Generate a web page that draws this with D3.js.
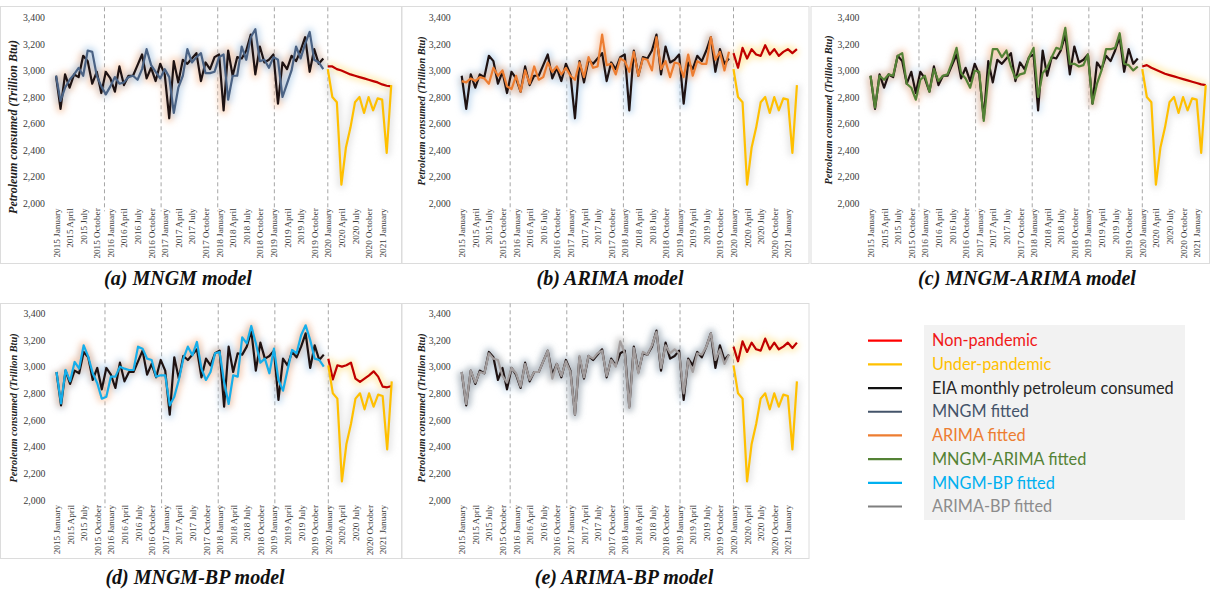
<!DOCTYPE html>
<html>
<head>
<meta charset="utf-8">
<script src="https://cdn.jsdelivr.net/npm/d3@7"></script>
<style>
  html, body { margin: 0; padding: 0; background: #ffffff; }
  svg { display: block; }
</style>
</head>
<body>
<svg id="chart" width="1210" height="590"></svg>
<script>
// ---------------- DATA ----------------
const tickLabels = [
  "2015 January","2015 April","2015 July","2015 October",
  "2016 January","2016 April","2016 July","2016 October",
  "2017 January","2017 April","2017 July","2017 October",
  "2018 January","2018 April","2018 July","2018 October",
  "2019 January","2019 April","2019 July","2019 October",
  "2020 January","2020 April","2020 July","2020 October",
  "2021 January"
];
const yTicks = [2000, 2200, 2400, 2600, 2800, 3000, 3200, 3400];
// month index (0 = 2015 January) where the dashed year separators sit
const dividers = [10.7, 23.2, 35.7, 48.2, 60];

// EIA monthly petroleum consumed, 2015 Jan – 2019 Dec (trillion Btu)
const eia = [
  2960, 2710, 2970, 2870, 2970, 2950, 3110, 3070, 2900, 2990, 2830, 2990,
  2940, 2840, 3030, 2890, 2960, 2960, 3040, 3120, 2940, 3020, 2920, 3050,
  2970, 2640, 3070, 2910, 3080, 3050, 3090, 3130, 2920, 3060, 3010, 3100,
  3120, 2700, 3150, 2960, 3100, 3090, 3150, 3270, 2970, 3180, 3060, 3080,
  3120, 2750, 3060, 3010, 3110, 3070, 3150, 3250, 2990, 3160, 3050, 3090
];
const mngmFit = [
  2960, 2770, 2870, 2930, 2970, 3020, 2960, 3150, 3140, 2960, 2880, 2820,
  2880, 2950, 2900, 2910, 2950, 2960, 2930, 3010, 3160, 3040, 2990, 2940,
  3010, 2950, 2680, 2870, 2960, 3160, 3060, 3100, 3130, 2980, 2980, 2990,
  3100, 3120, 2780, 2960, 2960, 3180, 3080, 3250, 3310, 3070, 3080, 3020,
  3100, 3080, 2800, 2900, 3000, 3180, 3090, 3200, 3290, 3080, 3060, 3010
];
const arimaFit = [
  2920, 2910, 2940, 2920, 2950, 2940, 2900, 3020, 2960, 3000, 2880, 2860,
  2960, 2840, 3000, 2900, 3030, 2930, 2950, 3060, 2990, 3030, 2970, 3020,
  2960, 2930, 3060, 2950, 3100, 3020, 3030, 3270, 3040, 3050, 2970, 3090,
  3070, 2990, 3140, 2960, 3090, 3080, 3000, 3250, 3010, 3070, 2950, 3060,
  3050, 2950, 3120, 2960, 3070, 3050, 3050, 3250, 3080, 3140, 3000, 3140
];
const mngmArimaFit = [
  2960, 2720, 2960, 2930, 2970, 2960, 3110, 3130, 2900, 2870, 2780, 2930,
  2960, 2840, 3010, 2920, 2960, 2970, 3060, 3170, 2980, 2940, 2870, 3000,
  2990, 2620, 2950, 3160, 3160, 3100, 3150, 3030, 2940, 2970, 2980, 3100,
  3170, 2800, 2980, 3020, 3100, 3170, 3160, 3320, 3050, 3050, 3030, 3040,
  3120, 2750, 2900, 3000, 3160, 3160, 3170, 3280, 3050, 3040, 3000, 3030
];
const mngmBpFit = [
  2960, 2725, 2975, 2890, 3035, 2985, 3160, 3075, 2950, 2875, 2760, 2775,
  2925, 2925, 3000, 2985, 2975, 2975, 3150, 3135, 3060, 3050, 2925, 2935,
  2935, 2710, 2775, 2900, 3060, 3150, 3085, 3185, 2985, 2900, 2960, 3100,
  3110, 2885, 2720, 2935, 2925, 3220, 3175, 3305, 3175, 3030, 3060, 2950,
  3135, 2900, 2820, 2975, 3125, 3100, 3235, 3310, 3200, 3060, 3050, 3000
];
const arimaBpFit = [
  2960, 2720, 2970, 2880, 2960, 2950, 3100, 3060, 3050, 2930, 2880, 2990,
  2950, 2850, 3020, 2900, 2960, 2960, 3040, 3120, 2910, 3020, 2930, 3040,
  2960, 2640, 3080, 2920, 3080, 3060, 3100, 3120, 2930, 3050, 3000, 3190,
  3100, 2690, 3140, 2950, 3110, 3090, 3160, 3260, 2990, 3160, 3100, 3130,
  3100, 2800, 3050, 2960, 3100, 3090, 3150, 3250, 3050, 3130, 3020, 3090
];

// Forecasts, 2020 Jan – 2021 Mar
const underPandemic = [3010, 2800, 2760, 2140, 2420, 2570, 2760, 2800, 2680, 2800, 2700, 2790, 2780, 2380, 2890];
const nonPandemicMNGM      = [3030, 3030, 3010, 3000, 2985, 2970, 2960, 2950, 2940, 2930, 2920, 2910, 2895, 2885, 2880];
const nonPandemicARIMA     = [3130, 3020, 3170, 3090, 3160, 3120, 3110, 3190, 3120, 3160, 3110, 3140, 3160, 3130, 3160];
const nonPandemicMNGMARIMA = [3030, 3040, 3020, 3005, 2990, 2975, 2965, 2955, 2945, 2935, 2925, 2915, 2905, 2895, 2890];
const nonPandemicMNGMBP    = [3060, 2905, 3010, 3000, 3010, 3030, 2910, 2885, 2910, 2935, 2965, 2925, 2850, 2845, 2855];
const nonPandemicARIMABP   = [3150, 3040, 3190, 3110, 3180, 3130, 3120, 3210, 3130, 3180, 3130, 3150, 3180, 3140, 3180];

const legendLabels = ["Non-pandemic","Under-pandemic","EIA monthly petroleum consumed","MNGM fitted","ARIMA fitted","MNGM-ARIMA fitted","MNGM-BP fitted","ARIMA-BP fitted"];

// ---------------- STYLE ----------------
const C = {
  non: "#C00000", under: "#FFC000", eia: "#1E1212",
  mngm: "#4A6284", arima: "#ED7D31", mngmArima: "#548235", mngmBp: "#16AEEA", arimaBp: "#A39D9D"
};
const legendLine = ["#FF0000","#FFC000","#111111","#44546A","#ED7D31","#548235","#00B0F0","#7F7F7F"];
const legendText = ["#F01818","#FFC000","#262626","#44546A","#ED7D31","#548235","#00B0F0","#8C8C8C"];

const panels = [
  { title: "(a) MNGM model", fit: mngmFit, fitColor: C.mngm, fitGlow: "#9DC3E6", eiaGlow: "#F4B183", non: nonPandemicMNGM,
    x0: 56, top: 17.3, bottom: 203.3, frame: [0.5, 6.5, 401, 257], titleX: 178, titleY: 285, yTitleX: 13, yTitleY: 127, yTitleSize: 12 },
  { title: "(b) ARIMA model", fit: arimaFit, fitColor: C.arima, fitGlow: "#F4B183", eiaGlow: "#9DC3E6", non: nonPandemicARIMA,
    x0: 461.7, top: 17.3, bottom: 203.3, frame: [402, 6.5, 407, 257], titleX: 610, titleY: 285, yTitleX: 421.5, yTitleY: 111, yTitleSize: 10.3 },
  { title: "(c) MNGM-ARIMA model", fit: mngmArimaFit, fitColor: C.mngmArima, fitGlow: "#F4B183", eiaGlow: "#BDD7EE", non: nonPandemicMNGMARIMA,
    x0: 870.5, top: 17.3, bottom: 203.3, frame: [811, 6.5, 398.5, 257], titleX: 1027, titleY: 285, yTitleX: 828, yTitleY: 110, yTitleSize: 10.3 },
  { title: "(d) MNGM-BP model", fit: mngmBpFit, fitColor: C.mngmBp, fitGlow: "#F4B183", eiaGlow: "#9DC3E6", non: nonPandemicMNGMBP,
    x0: 56.5, top: 313.3, bottom: 500, frame: [0.5, 303.5, 401, 255], titleX: 195, titleY: 584, yTitleX: 13.3, yTitleY: 408, yTitleSize: 10.3 },
  { title: "(e) ARIMA-BP model", fit: arimaBpFit, fitColor: C.arimaBp, fitGlow: "#9A9A9A", eiaGlow: "#BDD7EE", non: nonPandemicARIMABP,
    x0: 461.7, top: 313.3, bottom: 500, frame: [402, 303.5, 407, 255], titleX: 624, titleY: 584, yTitleX: 421.5, yTitleY: 408, yTitleSize: 10.3 }
];
const monthStep = 4.53;
const serif = "'Liberation Serif', 'Times New Roman', serif";

// ---------------- DRAW ----------------
const svg = d3.select("#chart");
const defs = svg.append("defs");
defs.append("filter").attr("id", "glow").attr("x", "-20%").attr("y", "-50%").attr("width", "140%").attr("height", "200%")
  .append("feGaussianBlur").attr("stdDeviation", 3.4);

panels.forEach(p => {
  const g = svg.append("g");
  const [fx, fy, fw, fh] = p.frame;
  g.append("rect").attr("x", fx).attr("y", fy).attr("width", fw).attr("height", fh)
    .attr("fill", "none").attr("stroke", "#DCDCDC").attr("stroke-width", 1);

  const x = d3.scaleLinear().domain([0, 74]).range([p.x0, p.x0 + 74 * monthStep]);
  const y = d3.scaleLinear().domain([2000, 3400]).range([p.bottom, p.top]);

  // dashed year separators
  g.selectAll("line.div").data(dividers).enter().append("line")
    .attr("x1", d => x(d)).attr("x2", d => x(d))
    .attr("y1", p.top - 10).attr("y2", p.bottom + 8)
    .attr("stroke", "#A6A6A6").attr("stroke-width", 1).attr("stroke-dasharray", "4,3");

  // y axis
  const ya = g.append("g").attr("transform", `translate(${p.x0},0)`)
    .call(d3.axisLeft(y).tickValues(yTicks).tickFormat(d3.format(",")).tickSize(0).tickPadding(11));
  ya.select(".domain").remove();
  ya.selectAll("text").attr("font-family", serif).attr("font-size", 9.8).attr("fill", "#3A3A3A");

  // x labels (every 3 months)
  const xa = g.append("g").attr("transform", `translate(0,${p.bottom + 5})`)
    .call(d3.axisBottom(x).tickValues(tickLabels.map((_, i) => i * 3)).tickFormat((d, i) => tickLabels[i]).tickSize(0));
  xa.select(".domain").remove();
  xa.selectAll("text").attr("font-family", serif).attr("font-size", 9.2).attr("fill", "#3A3A3A")
    .attr("text-anchor", "end").attr("transform", "rotate(-90)").attr("x", 0).attr("y", 0).attr("dy", "0.33em");

  // y title
  g.append("text").attr("transform", `translate(${p.yTitleX},${p.yTitleY}) rotate(-90)`)
    .attr("text-anchor", "middle").attr("dy", "0.35em")
    .attr("font-family", serif).attr("font-size", p.yTitleSize).attr("font-weight", "bold").attr("font-style", "italic")
    .attr("fill", "#222").text("Petroleum consumed (Trillion Btu)");

  // panel title
  g.append("text").attr("x", p.titleX).attr("y", p.titleY).attr("text-anchor", "middle")
    .attr("font-family", serif).attr("font-size", 20).attr("font-weight", "bold").attr("font-style", "italic")
    .attr("fill", "#111").text(p.title);

  const line = (offset) => d3.line().x((d, i) => x(i + offset)).y(d => y(d));
  const series = [
    { data: p.non, off: 60, color: C.non, glow: "#FFE699", w: 2.2, go: 0.7 },
    { data: underPandemic, off: 60, color: C.under, glow: "#C8C8C8", w: 2.2, go: 0.45 },
    { data: eia, off: 0, color: C.eia, glow: p.eiaGlow, w: 2.2, go: 0.55 },
    { data: p.fit, off: 0, color: p.fitColor, glow: p.fitGlow, w: 2.2, go: 0.55 }
  ];
  // glows
  series.forEach(s => {
    g.append("path").datum(s.data).attr("d", line(s.off))
      .attr("fill", "none").attr("stroke", s.glow).attr("stroke-width", 8).attr("stroke-opacity", s.go)
      .attr("stroke-linejoin", "round").attr("filter", "url(#glow)");
  });
  series.forEach(s => {
    g.append("path").datum(s.data).attr("d", line(s.off))
      .attr("fill", "none").attr("stroke", s.color).attr("stroke-width", s.w).attr("stroke-linejoin", "round");
  });
});

// ---------------- LEGEND ----------------
const lg = svg.append("g");
lg.append("rect").attr("x", 924).attr("y", 325).attr("width", 261).attr("height", 195).attr("fill", "#F2F2F2");
const ly = d3.scaleLinear().domain([0, 7]).range([340.7, 506.5]);
legendLabels.forEach((lab, i) => {
  lg.append("line").attr("x1", 868).attr("x2", 902).attr("y1", ly(i)).attr("y2", ly(i))
    .attr("stroke", legendLine[i]).attr("stroke-width", 2.2);
  lg.append("text").attr("x", 932).attr("y", ly(i)).attr("dy", "0.35em")
    .attr("font-family", "Lato, 'Open Sans', sans-serif").attr("font-size", 16.3)
    .attr("fill", legendText[i]).text(lab);
});
</script>
</body>
</html>
